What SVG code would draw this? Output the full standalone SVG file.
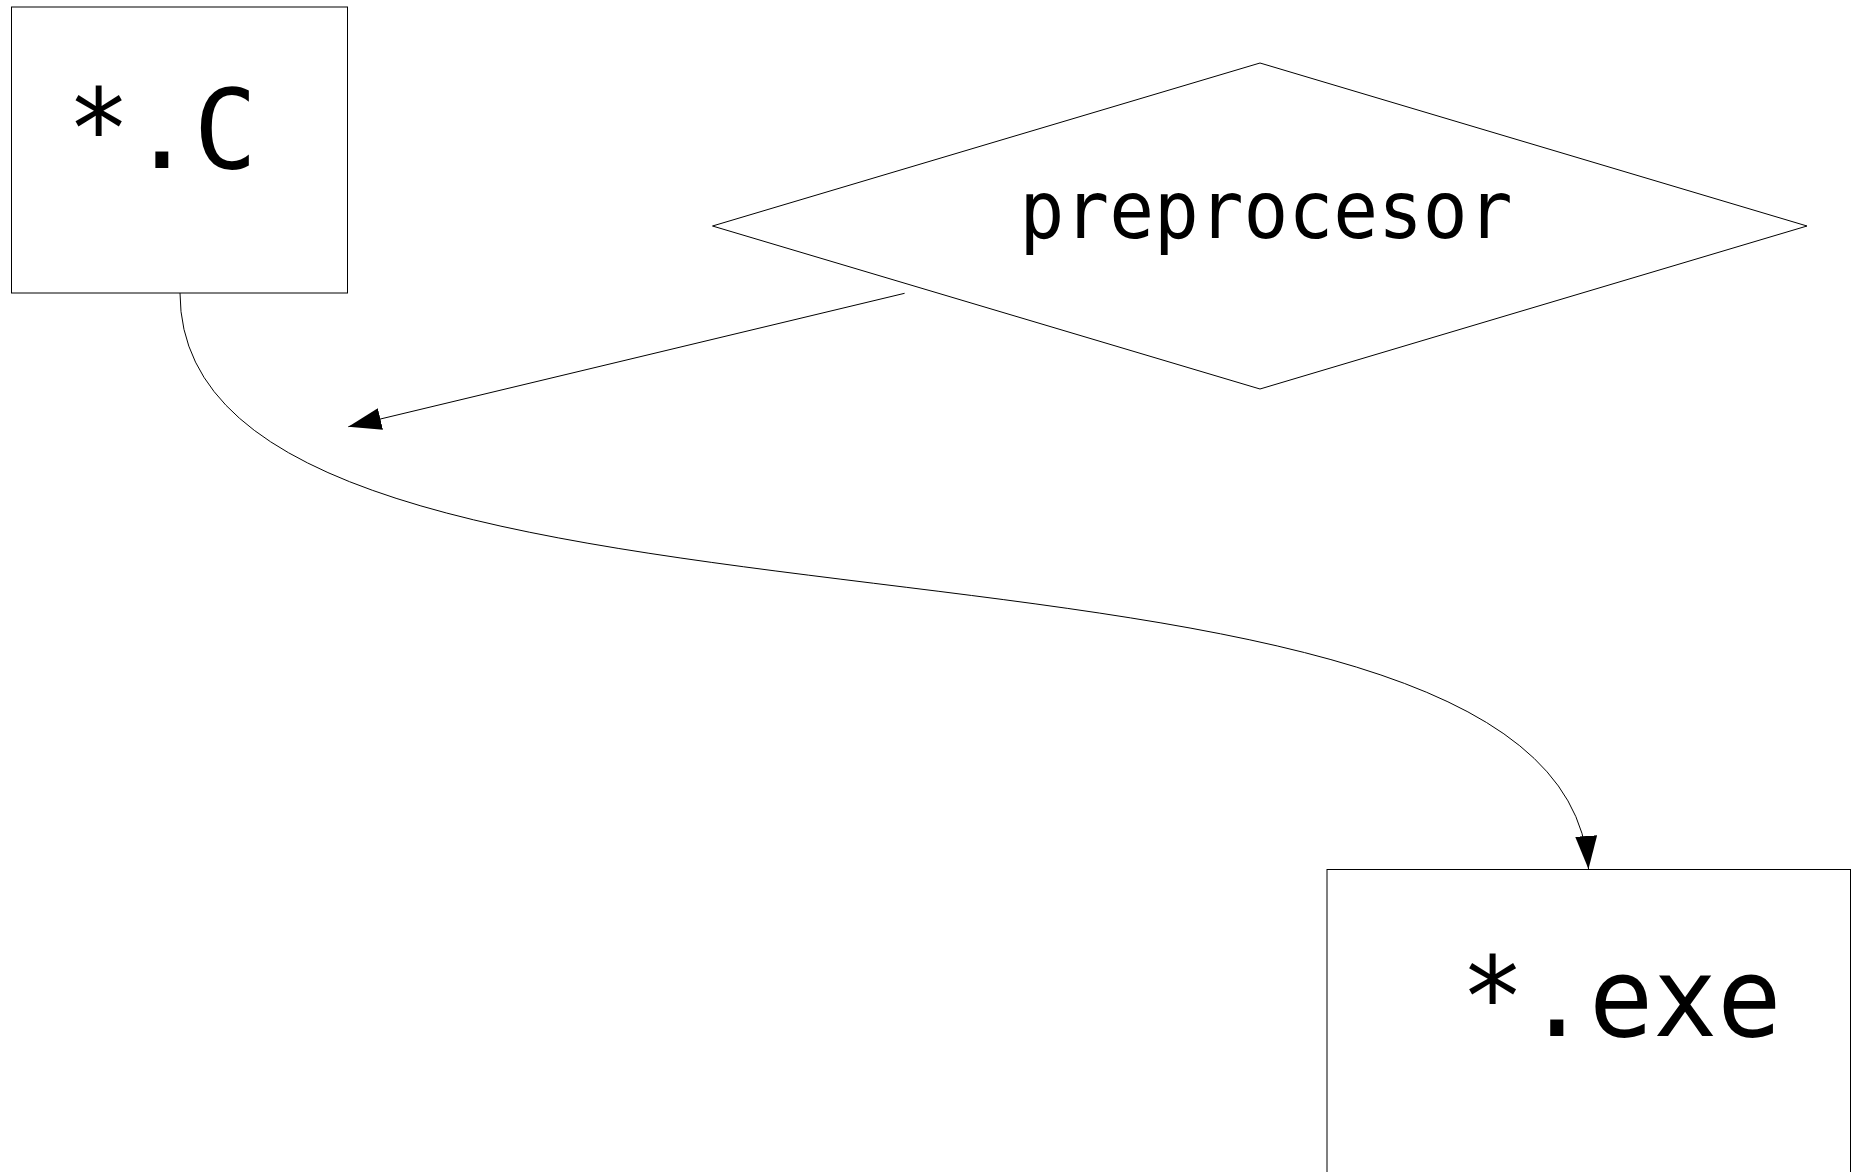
<svg xmlns="http://www.w3.org/2000/svg" width="1854" height="1172" viewBox="0 0 1854 1172">
  <style>
    .shape { fill: #ffffff; stroke: #000000; stroke-width: 1; }
    .conn { fill: none; stroke: #000000; stroke-width: 1; }
    .label { font-family: "DejaVu Sans Mono", "Liberation Mono", monospace; fill: #000000; }
  </style>
  <defs>
    <marker id="arrow" viewBox="0 0 33 22" refX="33" refY="11" markerWidth="33" markerHeight="22" markerUnits="userSpaceOnUse" orient="auto">
      <path d="M0,0 L33,11 L0,22 z" fill="#000000"/>
    </marker>
  </defs>
  <rect width="1854" height="1172" fill="#ffffff"/>
  <g id="node-c">
    <rect class="shape" x="11.5" y="7" width="336" height="286"/>
    <text class="label" x="67" y="168" font-size="110" textLength="190" lengthAdjust="spacingAndGlyphs">*.C</text>
  </g>
  <g id="node-preprocesor">
    <polygon class="shape" points="712.5,226 1260,63 1807,226 1260,389"/>
    <text class="label" x="1019.5" y="238" font-size="80" textLength="493" lengthAdjust="spacingAndGlyphs">preprocesor</text>
  </g>
  <g id="node-exe">
    <rect class="shape" x="1327" y="869.5" width="523.5" height="320"/>
    <text class="label" x="1460.5" y="1036" font-size="110" textLength="321" lengthAdjust="spacingAndGlyphs">*.exe</text>
  </g>
  <g id="connectors">
    <path class="conn" d="M180,293 C180,700 1560,468 1588.5,869" marker-end="url(#arrow)"/>
    <path class="conn" d="M904.6,293.3 L348.3,426.7" marker-end="url(#arrow)"/>
  </g>
</svg>
